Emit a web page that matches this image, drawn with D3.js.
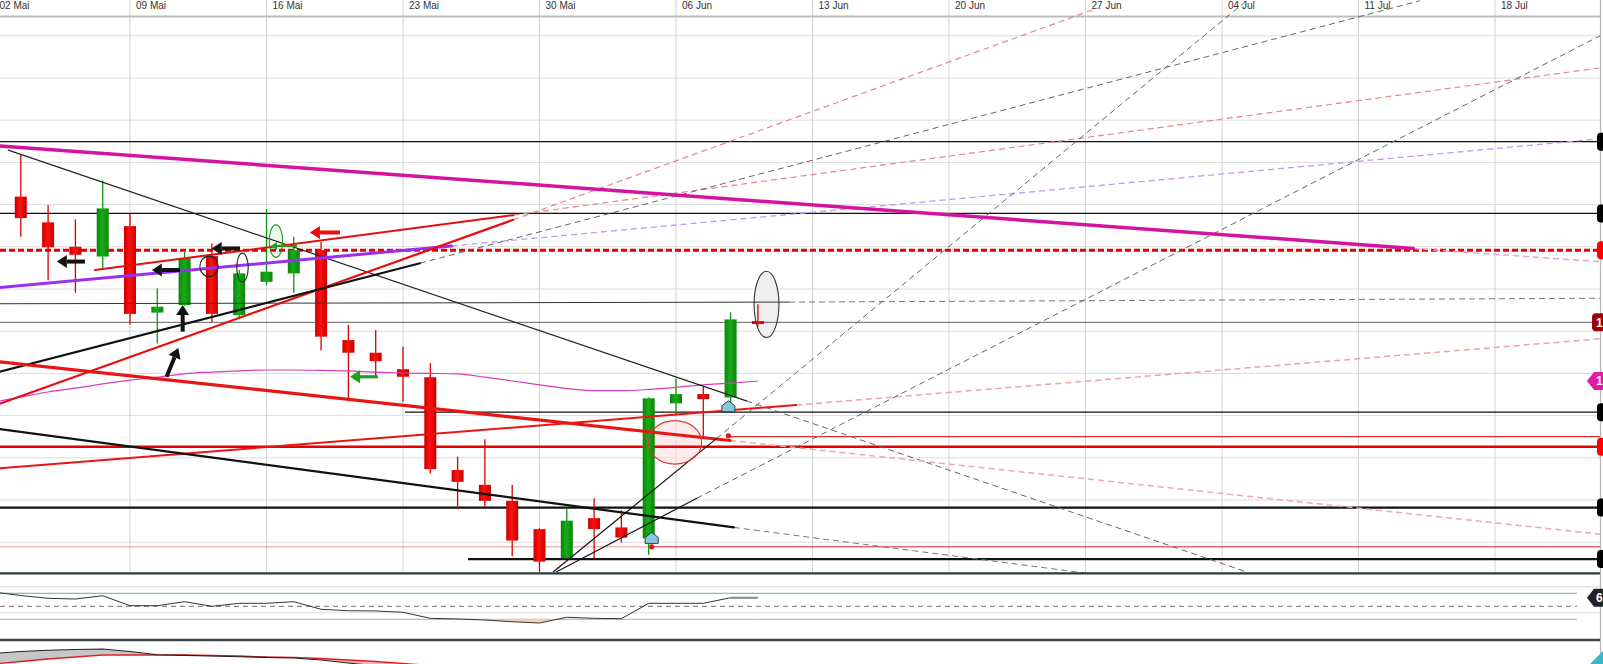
<!DOCTYPE html>
<html><head><meta charset="utf-8">
<script src="https://cdn.jsdelivr.net/npm/d3@7"></script>
<style>html,body{margin:0;padding:0;background:#fff;overflow:hidden}svg{display:block}</style>
</head><body><svg id="c" width="1603" height="664"></svg>
<script>
// ---------------- DATA ----------------
const tickLabels = ["02 Mai","09 Mai","16 Mai","23 Mai","30 Mai","06 Jun","13 Jun","20 Jun","27 Jun","04 Jul","11 Jul","18 Jul"];
const candleDates = ["03 Mai","04 Mai","05 Mai","06 Mai","09 Mai","10 Mai","11 Mai","12 Mai","13 Mai","16 Mai","17 Mai","18 Mai","19 Mai","20 Mai","23 Mai","24 Mai","25 Mai","26 Mai","27 Mai","30 Mai","31 Mai","01 Jun","02 Jun","03 Jun","06 Jun","07 Jun","08 Jun","09 Jun"];
const candleIndex = d3.range(1, 29); // trading-day index from 02 Mai
const openP  = [108.19,107.58,107.00,106.77,107.49,105.44,105.62,106.78,105.38,106.17,106.37,106.92,104.79,104.49,104.10,103.91,101.71,101.36,100.98,100.31,99.62,100.57,100.35,100.09,103.29,103.51,103.43,105.24];
const highP  = [109.18,107.99,107.65,108.57,107.78,106.02,106.88,107.08,106.45,107.89,107.24,107.12,105.15,105.03,104.63,104.24,102.03,102.44,101.36,100.33,100.80,101.04,100.76,103.43,103.88,103.68,105.45,105.64];
const lowP   = [107.24,106.21,105.91,106.49,105.16,104.71,105.60,105.20,105.31,106.09,105.91,104.54,103.35,103.92,103.33,101.63,100.78,100.84,99.67,99.30,99.62,99.62,99.99,99.70,103.01,102.50,103.21,105.11];
const closeP = [107.68,106.99,106.81,107.91,105.41,105.58,106.73,105.41,106.37,106.41,106.92,104.87,104.49,104.29,103.92,101.73,101.43,100.98,100.04,99.54,100.51,100.31,100.11,103.41,103.51,103.39,105.28,105.17];
const maValues = [103.32,103.44,103.56,103.65,103.75,103.84,103.91,103.99,104.03,104.06,104.08,104.08,104.07,104.06,104.03,104.01,104.00,103.99,103.91,103.82,103.73,103.64,103.59,103.59,103.62,103.67,103.73,103.77,103.82];
const rsiValues = [72.0,66.6,62.3,61.2,66.3,50.9,50.9,57.1,50.0,54.6,54.6,57.1,45.4,43.2,42.8,40.8,31.5,30.5,28.9,26.3,24.3,33.1,31.5,30.9,54.6,54.6,54.6,63.2,63.2];
const rsiLevels = [70, 50, 30];
const rsiGrid = [80, 40];
const oscMain = [5.25,6.25,6.85,7.25,7.5,6.25,4.6,4.3,4.0,3.65,3.3,3.0,2.0,0.5,-1.0,-2.5];
const oscSignal = [0,1.25,2.5,3.5,4.5,4.5,4.5,4.5,4.25,4.0,3.5,3.35,2.75,2.0,1.25,0.25,-0.75];
// horizontal levels: price and first trading-day index
const levelPrices = [109.49,107.79,106.92,105.21,103.08,102.50,102.26,100.82,99.89,99.60];
const levelStart  = [0,0,0,0,15.07,26.92,0,0,24.11,17.38];
// trend lines: [index, price] solid from/to, dashed extension end
const trendLines = [
  {name:"sloped",   from:[0,105.65],    to:[29.14,105.69], ext:[58.85,105.78]},
  {name:"magenta",  from:[0,109.40],    to:[52.01,106.96], ext:[58.96,106.64]},
  {name:"thinDesc", from:[0.54,109.29], to:[27.58,103.35], ext:[45.88,99.30]},
  {name:"purple",   from:[0,106.02],    to:[16.78,107.02], ext:[58.85,109.56]},
  {name:"redUpper", from:[3.72,106.45], to:[19.04,107.75], ext:[58.85,111.24]},
  {name:"redSteep", from:[0,103.23],    to:[19.04,107.64], ext:[40.46,112.66]},
  {name:"blackRise",from:[0,104.00],    to:[15.62,106.61], ext:[52.25,112.83]},
  {name:"redLower", from:[0,101.74],    to:[29.40,103.25], ext:[58.85,104.82]},
  {name:"redDesc",  from:[0,104.29],    to:[26.98,102.41], ext:[58.85,100.19]},
  {name:"blackDesc",from:[0,102.70],    to:[27.12,100.35], ext:[39.98,99.27]},
  {name:"fanA",     from:[20.51,99.30], to:[26.49,102.46], ext:[45.84,112.80]},
  {name:"fanB",     from:[20.63,99.30], to:[25.76,101.04], ext:[58.85,112.00]}
];
// ellipses: [index1, index2, priceTop, priceBottom]
const ellipses = [
  {name:"gray",  box:[27.86,28.77,106.42,104.85]},
  {name:"red",   box:[23.98,25.94,102.88,101.85]},
  {name:"black", box:[7.56,8.23,106.78,106.29]},
  {name:"black", box:[8.91,9.33,106.85,106.17]},
  {name:"green", box:[10.10,10.59,107.52,106.75]}
];
// arrows: [tailIndex, tailPrice, headIndex, headPrice]
const arrows = [
  {c:"black", v:[3.35,106.65,2.32,106.65]},
  {c:"black", v:[6.83,106.45,5.80,106.45]},
  {c:"black", v:[9.03,106.96,7.99,106.96]},
  {c:"black", v:[6.93,104.99,6.93,105.62]},
  {c:"black", v:[6.34,103.92,6.77,104.60]},
  {c:"red",   v:[12.69,107.34,11.59,107.34]},
  {c:"green", v:[14.08,103.92,13.06,103.92]},
  {c:"greenS",v:[11.12,107.02,10.16,107.02]}
];
const signalMarks = [[26.92,103.21],[24.11,100.09]];
const redDots = [[26.92,102.52],[24.11,99.89]];

// ---------------- STYLES ----------------
const trendStyle = {
  sloped:   {c:"#333", w:1,   ec:"#777", ew:1},
  magenta:  {c:"#d4139f", w:3.5, ec:"#e7a3d8", ew:1.5},
  thinDesc: {c:"#222", w:1.2, ec:"#666", ew:1},
  purple:   {c:"#9b2ff0", w:3, ec:"#c597ee", ew:1.3},
  redUpper: {c:"#e80d0d", w:2, ec:"#e58787", ew:1.2},
  redSteep: {c:"#e80d0d", w:2.2, ec:"#e58787", ew:1.2},
  blackRise:{c:"#111", w:2.2, ec:"#666", ew:1},
  redLower: {c:"#e81515", w:2, ec:"#f0a3a3", ew:1.5},
  redDesc:  {c:"#e81515", w:3.2, ec:"#f0a8a8", ew:1.5},
  blackDesc:{c:"#111", w:2.2, ec:"#777", ew:1},
  fanA:     {c:"#111", w:1.2, ec:"#666", ew:1},
  fanB:     {c:"#111", w:1.2, ec:"#666", ew:1}
};
const levelStyle = [
  {c:"#111",w:1.2,m:"#000"},{c:"#111",w:1.2,m:"#000"},{c:"#e60000",w:3,d:"6,3",m:"#f00"},
  {c:"#666",w:1,m:"#a00000",t:"1"},{c:"#111",w:1.2,m:"#000"},{c:"#d40000",w:1},
  {c:"#e60000",w:2.5,m:"#f00"},{c:"#111",w:2.2,m:"#000"},{c:"#d42020",w:1,faint:true},{c:"#111",w:2.2,m:"#000"}
];

// ---------------- LAYOUT / SCALES ----------------
const plotRight = 1600, mainBottom = 573.3, rsiBottom = 640;
const x = d3.scaleLinear().domain([0,55]).range([-6.5,1495]);
const y = d3.scaleLinear().domain([100,112]).range([542.2,35.8]);
const yR = d3.scaleLinear().domain([30,70]).range([619.3,593.3]);
const yM = d3.scaleLinear().domain([0,12]).range([664,640]);

const svg = d3.select("#c");
const defs = svg.append("defs");
defs.append("clipPath").attr("id","cMain").append("rect").attr("x",0).attr("y",0).attr("width",plotRight).attr("height",mainBottom);
defs.append("clipPath").attr("id","cRsi").append("rect").attr("x",0).attr("y",mainBottom).attr("width",plotRight).attr("height",rsiBottom-mainBottom);
defs.append("clipPath").attr("id","cRsiLow").append("rect").attr("x",0).attr("y",yR(30)).attr("width",plotRight).attr("height",rsiBottom-yR(30));
defs.append("clipPath").attr("id","cMacd").append("rect").attr("x",0).attr("y",rsiBottom).attr("width",plotRight).attr("height",664-rsiBottom);
function grad(id, edge, mid){
  const g = defs.append("linearGradient").attr("id",id).attr("x1",0).attr("x2",1).attr("y1",0).attr("y2",0);
  g.append("stop").attr("offset","0%").attr("stop-color",edge);
  g.append("stop").attr("offset","45%").attr("stop-color",mid);
  g.append("stop").attr("offset","100%").attr("stop-color",edge);
}
grad("gUp","#0a850a","#17ad17");
grad("gDn","#c80000","#ff1010");

svg.append("rect").attr("width",1603).attr("height",664).attr("fill","#fff");

// gridlines
const ticks = tickLabels.map((d,k)=>k*5);
const gGrid = svg.append("g");
gGrid.selectAll("line.h").data(d3.range(100,113)).join("line")
  .attr("x1",0).attr("x2",plotRight).attr("y1",d=>y(d)).attr("y2",d=>y(d))
  .attr("stroke","#dcdcdc").attr("stroke-width",1);
gGrid.selectAll("line.v").data(ticks).join("line")
  .attr("x1",d=>x(d)).attr("x2",d=>x(d)).attr("y1",0).attr("y2",mainBottom)
  .attr("stroke","#d2d2d2").attr("stroke-width",1);
gGrid.append("line").attr("x1",0).attr("x2",plotRight).attr("y1",16.5).attr("y2",16.5).attr("stroke","#bdbdbd").attr("stroke-width",2.2);
svg.append("g").selectAll("text").data(ticks).join("text")
  .attr("x",d=>x(d)+6).attr("y",9).text((d,k)=>tickLabels[k])
  .attr("font-family","'Liberation Sans', Arial, sans-serif").attr("font-size",10).attr("fill","#333");

const main = svg.append("g").attr("clip-path","url(#cMain)");

// ellipses fill (under candles)
const ellStyle = {gray:{f:"#efefef",fo:1,s:"#333"}, red:{f:"#fbdede",fo:0.6,s:"#e23a3a"}, black:{f:"none",fo:0,s:"#222"}, green:{f:"#e6f5e6",fo:0.6,s:"#1c9a1c"}};
function ellAttrs(sel){
  sel.attr("cx",d=>(x(d.box[0])+x(d.box[1]))/2).attr("cy",d=>(y(d.box[2])+y(d.box[3]))/2)
     .attr("rx",d=>(x(d.box[1])-x(d.box[0]))/2).attr("ry",d=>(y(d.box[3])-y(d.box[2]))/2);
}
main.append("g").selectAll("ellipse").data(ellipses).join("ellipse").call(ellAttrs)
  .attr("fill",d=>ellStyle[d.name].f).attr("fill-opacity",d=>ellStyle[d.name].fo).attr("stroke","none");

// horizontal levels
const gLev = main.append("g");
levelPrices.forEach((p,i)=>{
  const st = levelStyle[i];
  if(st.faint){
    gLev.append("line").attr("x1",0).attr("x2",x(levelStart[i])).attr("y1",y(p)).attr("y2",y(p))
      .attr("stroke",st.c).attr("stroke-width",st.w).attr("stroke-opacity",0.45);
  }
  gLev.append("line").attr("x1",st.faint?x(levelStart[i]):Math.max(0,x(levelStart[i]))).attr("x2",plotRight)
    .attr("y1",y(p)).attr("y2",y(p)).attr("stroke",st.c).attr("stroke-width",st.w)
    .attr("stroke-dasharray",st.d||null);
});

// candles
const candles = candleIndex.map((ix,k)=>({ix, o:openP[k], h:highP[k], l:lowP[k], c:closeP[k], date:candleDates[k]}));
const gC = main.append("g");
gC.selectAll("line").data(candles).join("line")
  .attr("x1",d=>x(d.ix)).attr("x2",d=>x(d.ix)).attr("y1",d=>y(d.h)).attr("y2",d=>y(d.l))
  .attr("stroke",d=>d.c>=d.o?"#0d960d":"#d80000").attr("stroke-width",1.3);
gC.selectAll("rect").data(candles).join("rect")
  .attr("x",d=>x(d.ix)-6).attr("width",12)
  .attr("y",d=>y(Math.max(d.o,d.c))).attr("height",d=>Math.max(2,Math.abs(y(d.o)-y(d.c))))
  .attr("fill",d=>d.c>=d.o?"url(#gUp)":"url(#gDn)");

// moving average
main.append("path").datum(maValues)
  .attr("d",d3.line().x((d,i)=>x(i)).y(d=>y(d)).curve(d3.curveMonotoneX))
  .attr("fill","none").attr("stroke","#d83cb8").attr("stroke-width",1.2);

// trend lines: extensions then solids
const gT = main.append("g");
trendLines.forEach(t=>{
  const s = trendStyle[t.name];
  gT.append("line").attr("x1",x(t.to[0])).attr("y1",y(t.to[1])).attr("x2",x(t.ext[0])).attr("y2",y(t.ext[1]))
    .attr("stroke",s.ec).attr("stroke-width",s.ew).attr("stroke-dasharray","6,4");
});
trendLines.forEach(t=>{
  const s = trendStyle[t.name];
  gT.append("line").attr("x1",x(t.from[0])).attr("y1",y(t.from[1])).attr("x2",x(t.to[0])).attr("y2",y(t.to[1]))
    .attr("stroke",s.c).attr("stroke-width",s.w).attr("stroke-linecap","round");
});

// ellipse outlines
main.append("g").selectAll("ellipse").data(ellipses).join("ellipse").call(ellAttrs)
  .attr("fill","none").attr("stroke",d=>ellStyle[d.name].s).attr("stroke-width",1.1);

// arrows
const arrowCol = {black:"#111", red:"#e81010", green:"#1aa01a", greenS:"#1aa01a"};
const gA = main.append("g");
arrows.forEach(a=>{
  const x1=x(a.v[0]), y1=y(a.v[1]), x2=x(a.v[2]), y2=y(a.v[3]);
  const small = a.c==="greenS";
  const len = Math.hypot(x2-x1,y2-y1), ux=(x2-x1)/len, uy=(y2-y1)/len;
  const hl = small?6:10, hw = small?4:6.5, sw = small?2:(a.c==="green"?3.2:4);
  const bx = x2-ux*hl, by = y2-uy*hl;
  gA.append("line").attr("x1",x1).attr("y1",y1).attr("x2",bx).attr("y2",by)
    .attr("stroke",arrowCol[a.c]).attr("stroke-width",sw);
  gA.append("polygon").attr("points",[[x2,y2],[bx-uy*hw,by+ux*hw],[bx+uy*hw,by-ux*hw]].map(p=>p.join(",")).join(" "))
    .attr("fill",arrowCol[a.c]);
});

// red dots & signal markers
main.append("g").selectAll("circle").data(redDots).join("circle")
  .attr("cx",d=>x(d[0])).attr("cy",d=>y(d[1])).attr("r",2.6).attr("fill","#ee1111");
main.append("g").selectAll("path").data(signalMarks).join("path")
  .attr("d",d=>{const cx=x(d[0]), cy=y(d[1]); return `M${cx},${cy-6}L${cx+6.5},${cy-1}L${cx+6.5},${cy+5}L${cx-6.5},${cy+5}L${cx-6.5},${cy-1}Z`;})
  .attr("fill","#86c8da").attr("stroke","#2b3f48").attr("stroke-width",1);

// panel borders
svg.append("line").attr("x1",0).attr("x2",plotRight).attr("y1",mainBottom).attr("y2",mainBottom).attr("stroke","#2e383d").attr("stroke-width",2.2);
svg.append("line").attr("x1",0).attr("x2",plotRight).attr("y1",rsiBottom).attr("y2",rsiBottom).attr("stroke","#3d4649").attr("stroke-width",2.4);

// RSI panel
const rsiEnd = 58;
const gR = svg.append("g").attr("clip-path","url(#cRsi)");
gR.selectAll("line.g").data(rsiGrid).join("line").attr("x1",0).attr("x2",plotRight)
  .attr("y1",d=>yR(d)).attr("y2",d=>yR(d)).attr("stroke","#dcdcdc");
const rsiCol = ["#7fc0c2","#888","#d7b394"];
rsiLevels.forEach((v,i)=>{
  gR.append("line").attr("x1",0).attr("x2",x(rsiEnd)).attr("y1",yR(v)).attr("y2",yR(v))
    .attr("stroke",rsiCol[i]).attr("stroke-width",1.2).attr("stroke-dasharray",i===1?"5,4":null);
});
gR.append("path").datum(rsiValues).attr("clip-path","url(#cRsiLow)")
  .attr("d",d3.area().x((d,i)=>x(i)).y0(yR(30)).y1(d=>yR(d)))
  .attr("fill","#f8d3bb");
gR.append("path").datum(rsiValues)
  .attr("d",d3.line().x((d,i)=>x(i)).y(d=>yR(d)))
  .attr("fill","none").attr("stroke","#333").attr("stroke-width",1);
gR.append("path").datum(rsiValues.slice(-2))
  .attr("d",d3.line().x((d,i)=>x(rsiValues.length-2+i)).y(d=>yR(d)))
  .attr("fill","none").attr("stroke","#8a8a8a").attr("stroke-width",2);

// bottom oscillator panel
const gM = svg.append("g").attr("clip-path","url(#cMacd)");
const n = Math.min(oscMain.length, oscSignal.length);
const pairs = d3.range(n).map(i=>({i, a:oscMain[i], b:oscSignal[i]}));
gM.append("path").datum(pairs)
  .attr("d",d3.area().x(d=>x(d.i)).y0(d=>yM(d.b)).y1(d=>yM(Math.max(d.a,d.b))))
  .attr("fill","#c6c6c6");
gM.append("path").datum(pairs)
  .attr("d",d3.area().x(d=>x(d.i)).y0(d=>yM(d.a)).y1(d=>yM(Math.max(d.a,d.b))))
  .attr("fill","#f6b3b3");
gM.append("path").datum(oscSignal).attr("d",d3.line().x((d,i)=>x(i)).y(d=>yM(d)))
  .attr("fill","none").attr("stroke","#e02020").attr("stroke-width",1.3);
gM.append("path").datum(oscMain).attr("d",d3.line().x((d,i)=>x(i)).y(d=>yM(d)))
  .attr("fill","none").attr("stroke","#222").attr("stroke-width",1.1);

// right axis line
svg.append("line").attr("x1",plotRight+0.5).attr("x2",plotRight+0.5).attr("y1",0).attr("y2",664).attr("stroke","#b5b5b5").attr("stroke-width",1.2);

// right edge markers
const gMk = svg.append("g");
levelPrices.forEach((p,i)=>{
  const st = levelStyle[i];
  if(!st.m) return;
  const cy = y(p);
  gMk.append("rect").attr("x",st.t?1592:1597).attr("y",cy-9).attr("width",20).attr("height",18).attr("rx",4).attr("fill",st.m);
  if(st.t) gMk.append("text").attr("x",1596).attr("y",cy+4.5).text(st.t).attr("fill","#fff")
    .attr("font-family","'Liberation Sans', Arial, sans-serif").attr("font-size",12).attr("font-weight","bold");
});
function pent(cy, col, txt){
  gMk.append("path").attr("d",`M1587,${cy}L1594,${cy-9}L1610,${cy-9}L1610,${cy+9}L1594,${cy+9}Z`).attr("fill",col);
  gMk.append("text").attr("x",1596).attr("y",cy+4.5).text(txt).attr("fill","#fff")
    .attr("font-family","'Liberation Sans', Arial, sans-serif").attr("font-size",12).attr("font-weight","bold");
}
pent(y(maValues[maValues.length-1]), "#e21aa6", "1");
pent(yR(rsiValues[rsiValues.length-1]), "#222", "6");
gMk.append("path").attr("d","M1603,651L1603,664L1590,664Z").attr("fill","#3ab6c6");
</script></body></html>
